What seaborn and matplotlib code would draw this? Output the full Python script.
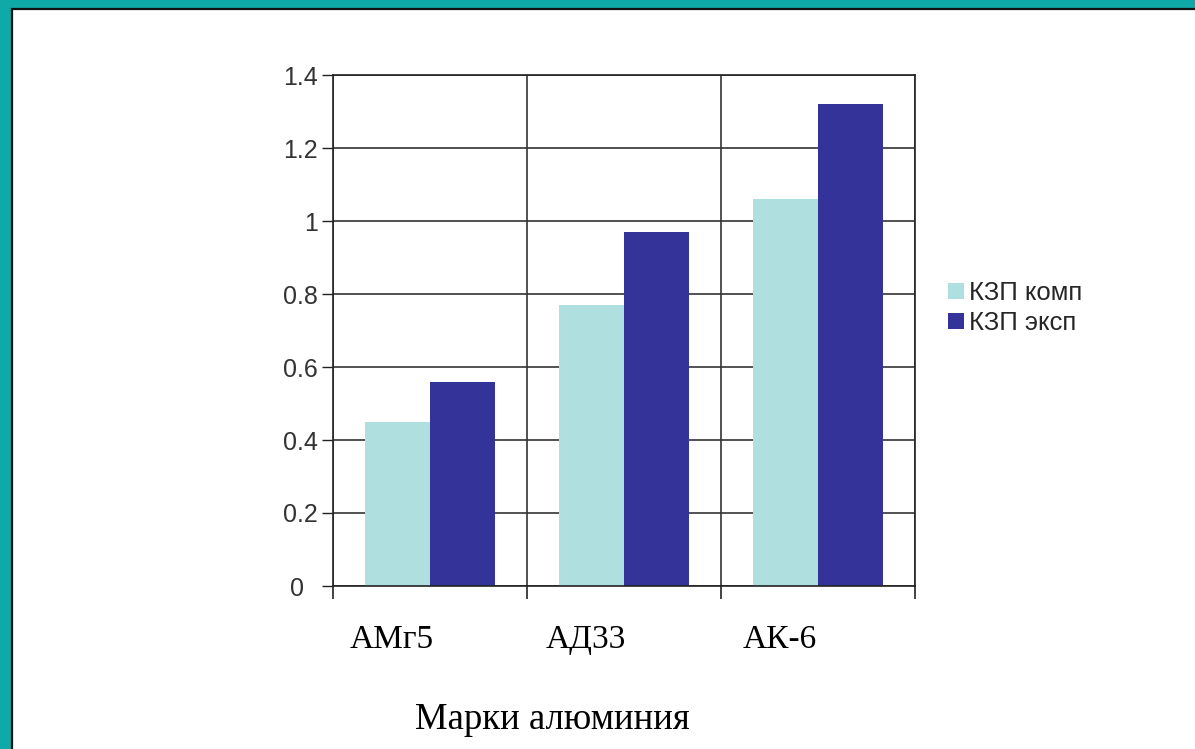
import pandas as pd
import seaborn as sns
import matplotlib.pyplot as plt
from matplotlib.patches import Rectangle
from matplotlib.transforms import ScaledTranslation

# Data
grades = ['АМг5', 'АД33', 'АК-6']
kzp_comp = [0.45, 0.77, 1.06]
kzp_exp = [0.56, 0.97, 1.32]
series_names = ['КЗП комп', 'КЗП эксп']
y_ticks = [0, 0.2, 0.4, 0.6, 0.8, 1, 1.2, 1.4]
y_tick_labels = ['0', '0.2', '0.4', '0.6', '0.8', '1', '1.2', '1.4']

df = pd.DataFrame({
    'grade': grades * 2,
    'value': kzp_comp + kzp_exp,
    'series': [series_names[0]] * 3 + [series_names[1]] * 3,
})

sns.set_style('white')
plt.rcParams['font.family'] = ['Liberation Sans', 'DejaVu Sans']

W, H = 1195, 749
fig = plt.figure(figsize=(W / 100, H / 100), dpi=100, facecolor='#0fa9a7')

# white slide area with dark edge on top/left
fig.add_artist(Rectangle((12 / W, -0.1), 1.2, 1 - 9 / H + 0.1, transform=fig.transFigure,
                         facecolor='white', edgecolor='#111111', linewidth=1.6, zorder=0))

ax = fig.add_axes([333 / W, 1 - 586 / H, (915 - 333) / W, (586 - 75) / H])
ax.set_facecolor('none')

sns.barplot(data=df, x='grade', y='value', hue='series', order=grades, hue_order=series_names,
            palette=['#b0dfe0', '#333399'], saturation=1, width=0.67, edgecolor='none',
            linewidth=0, ax=ax, legend=True)

ax.set_xlim(-0.5, 2.5)
ax.set_ylim(0, 1.4)
ax.set_yticks(y_ticks)
ax.set_yticklabels(y_tick_labels, fontsize=18, color='#333333')
ax.tick_params(axis='y', direction='out', length=8, width=1, color='#222222', pad=3, left=True)
# the zero label sits a bit further left in the original
zero_lbl = ax.get_yticklabels()[0]
zero_lbl.set_transform(zero_lbl.get_transform() + ScaledTranslation(-0.14, 0, fig.dpi_scale_trans))

# category labels without ticks, boundary ticks as minor
ax.set_xticks(range(len(grades)))
ax.set_xticklabels(grades, fontsize=24, family='Liberation Serif', color='black')
ax.tick_params(axis='x', which='major', length=0, pad=28)
shift = ScaledTranslation(-0.38, 0, fig.dpi_scale_trans)
for lbl in ax.get_xticklabels():
    lbl.set_transform(lbl.get_transform() + shift)
ax.set_xticks([-0.5, 0.5, 1.5, 2.5], minor=True)
ax.tick_params(axis='x', which='minor', direction='out', length=9, width=1.2, color='#222222', bottom=True)

ax.set_axisbelow(True)
ax.grid(axis='y', which='major', color='#333333', linewidth=1.2)
ax.grid(axis='x', which='minor', color='#333333', linewidth=1.2)
ax.grid(axis='x', which='major', visible=False)

for s in ax.spines.values():
    s.set_visible(True)
    s.set_color('#222222')
    s.set_linewidth(1.2)

ax.set_ylabel('')
ax.set_xlabel('Марки алюминия', fontsize=26.5, family='Liberation Serif', color='black')
ax.xaxis.set_label_coords((552 - 333) / 582, (586 - 720) / 511)
ax.xaxis.label.set_verticalalignment('center')

leg = ax.legend(loc='center left', bbox_to_anchor=(938 / W, 1 - 308 / H), bbox_transform=fig.transFigure,
                frameon=False, fontsize=18.5, handlelength=0.6, handleheight=0.6,
                handletextpad=0.2, labelspacing=0.25, borderaxespad=0)

fig.savefig('out.png', dpi=100)
